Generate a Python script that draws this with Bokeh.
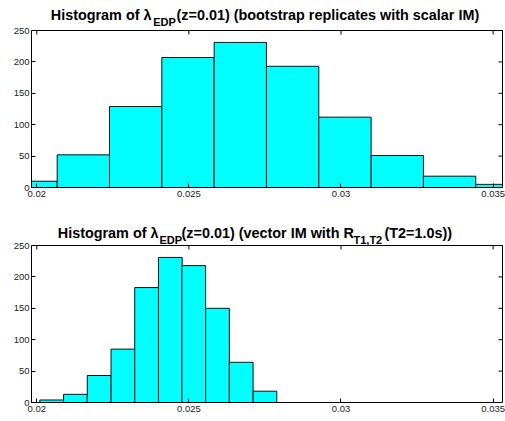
from bokeh.plotting import figure
from bokeh.layouts import column
from bokeh.models import Range1d, FixedTicker, CustomJSTickFormatter, LinearAxis
from bokeh.core.properties import value
from bokeh.embed import file_html
from bokeh.resources import INLINE

# ---- data ----
top_left_edges = [0.01895, 0.02067, 0.02239, 0.02411, 0.02583,
                  0.02755, 0.02927, 0.03099, 0.03271, 0.03443]
top_bin_width = 0.00172
top_counts = [10, 52, 129, 207, 231, 193, 112, 51, 18, 5]

bot_left_edges = [0.02010, 0.02088, 0.02166, 0.02244, 0.02322,
                  0.02400, 0.02477, 0.02555, 0.02633, 0.02711]
bot_bin_width = 0.00078
bot_counts = [4, 13, 43, 85, 183, 231, 218, 150, 64, 18]

x_ticks = [0.02, 0.025, 0.03, 0.035]
y_ticks = [0, 50, 100, 150, 200, 250]
x_limits = (0.019826, 0.035309)
y_limits = (0, 250)

top_title = ["Histogram of \u03bb", "EDP", "(z=0.01) (bootstrap replicates with scalar IM)"]
bot_title = ["Histogram of \u03bb", "EDP", "(z=0.01) (vector IM with R", "T1,T2", "(T2=1.0s))"]

FONT = "Liberation Sans"
W = 505
BL = 31            # left border (y tick labels)
FW, FH = 471, 157  # size of the data box in pixels
EXTRA_R = 2        # frame extends a little past the box on the right
TOP = 30           # title space above the data box (inside the frame)


def make_fig(left_edges, width, counts, border_bottom, pieces, xs, aligns,
             base_main, base_sub):
    xmin, xmax = x_limits
    ymin, ymax = y_limits
    dx = (xmax - xmin) / FW          # data units per pixel
    dy = (ymax - ymin) / FH
    fw2 = FW + EXTRA_R
    fh2 = FH + TOP
    p = figure(frame_width=fw2, frame_height=fh2, output_backend="svg",
               toolbar_location=None,
               x_range=Range1d(xmin, xmax + EXTRA_R * dx),
               y_range=Range1d(ymin, ymax + TOP * dy),
               x_axis_type=None, y_axis_type=None,
               min_border_left=BL, min_border_right=W - BL - fw2,
               min_border_top=0, min_border_bottom=border_bottom)
    p.background_fill_color = "white"
    p.border_fill_color = "white"
    p.outline_line_color = None
    p.xgrid.visible = False
    p.ygrid.visible = False
    # pixel coordinate system of this canvas (for the title pieces)
    p.extra_x_ranges = {"px": Range1d(BL, BL + fw2)}
    p.extra_y_ranges = {"py": Range1d(fh2, 0)}

    right = [min(e + width, xmax) for e in left_edges]
    p.quad(left=left_edges, right=right, bottom=0, top=counts,
           fill_color="#00FFFF", line_color="#111111", line_width=1)

    fmt = CustomJSTickFormatter(code="return String(tick);")
    ax = LinearAxis(ticker=FixedTicker(ticks=x_ticks), formatter=fmt,
                    bounds=(xmin, xmax))
    ay = LinearAxis(ticker=FixedTicker(ticks=y_ticks), bounds=(ymin, ymax))
    for a, stand in ((ax, 3), (ay, 2)):
        a.major_tick_in = 4
        a.major_tick_out = 0
        a.minor_tick_line_color = None
        a.axis_line_color = "black"
        a.major_tick_line_color = "black"
        a.major_label_text_font = FONT
        a.major_label_text_font_size = "9.5px"
        a.major_label_text_color = "#222222"
        a.major_label_standoff = stand
    p.add_layout(ax, "below")
    p.add_layout(ay, "left")

    # top and right sides of the box
    p.segment(x0=[xmin, xmax], y0=[ymax, ymin], x1=[xmax, xmax], y1=[ymax, ymax],
              line_color="black", line_width=1)
    # inward ticks on top and right sides
    n = len(x_ticks)
    p.segment(x0=x_ticks, y0=[ymax] * n, x1=x_ticks, y1=[ymax - 4 * dy] * n,
              line_color="black", line_width=1)
    m = len(y_ticks)
    p.segment(x0=[xmax] * m, y0=y_ticks, x1=[xmax - 4 * dx] * m, y1=y_ticks,
              line_color="black", line_width=1)

    # title with subscripts
    for i, (txt, x, al) in enumerate(zip(pieces, xs, aligns)):
        sub = i % 2 == 1
        p.text(x=[x], y=[base_sub if sub else base_main], text=[txt],
               x_range_name="px", y_range_name="py",
               text_font=value(FONT), text_font_style="bold",
               text_font_size=value("11px" if sub else "14.4px"),
               text_color="black", text_baseline="alphabetic", text_align=al)
    return p


p1 = make_fig(top_left_edges, top_bin_width, top_counts, 28,
              top_title, [151, 152.7, 176], ["right", "left", "left"], 14.5, 21.5)
p2 = make_fig(bot_left_edges, bot_bin_width, bot_counts, 19,
              bot_title, [158, 159, 181, 353, 384],
              ["right", "left", "left", "left", "left"], 17.7, 24.3)

layout = column(p1, p2, spacing=0)
open("out.html", "w").write(file_html(layout, INLINE))
